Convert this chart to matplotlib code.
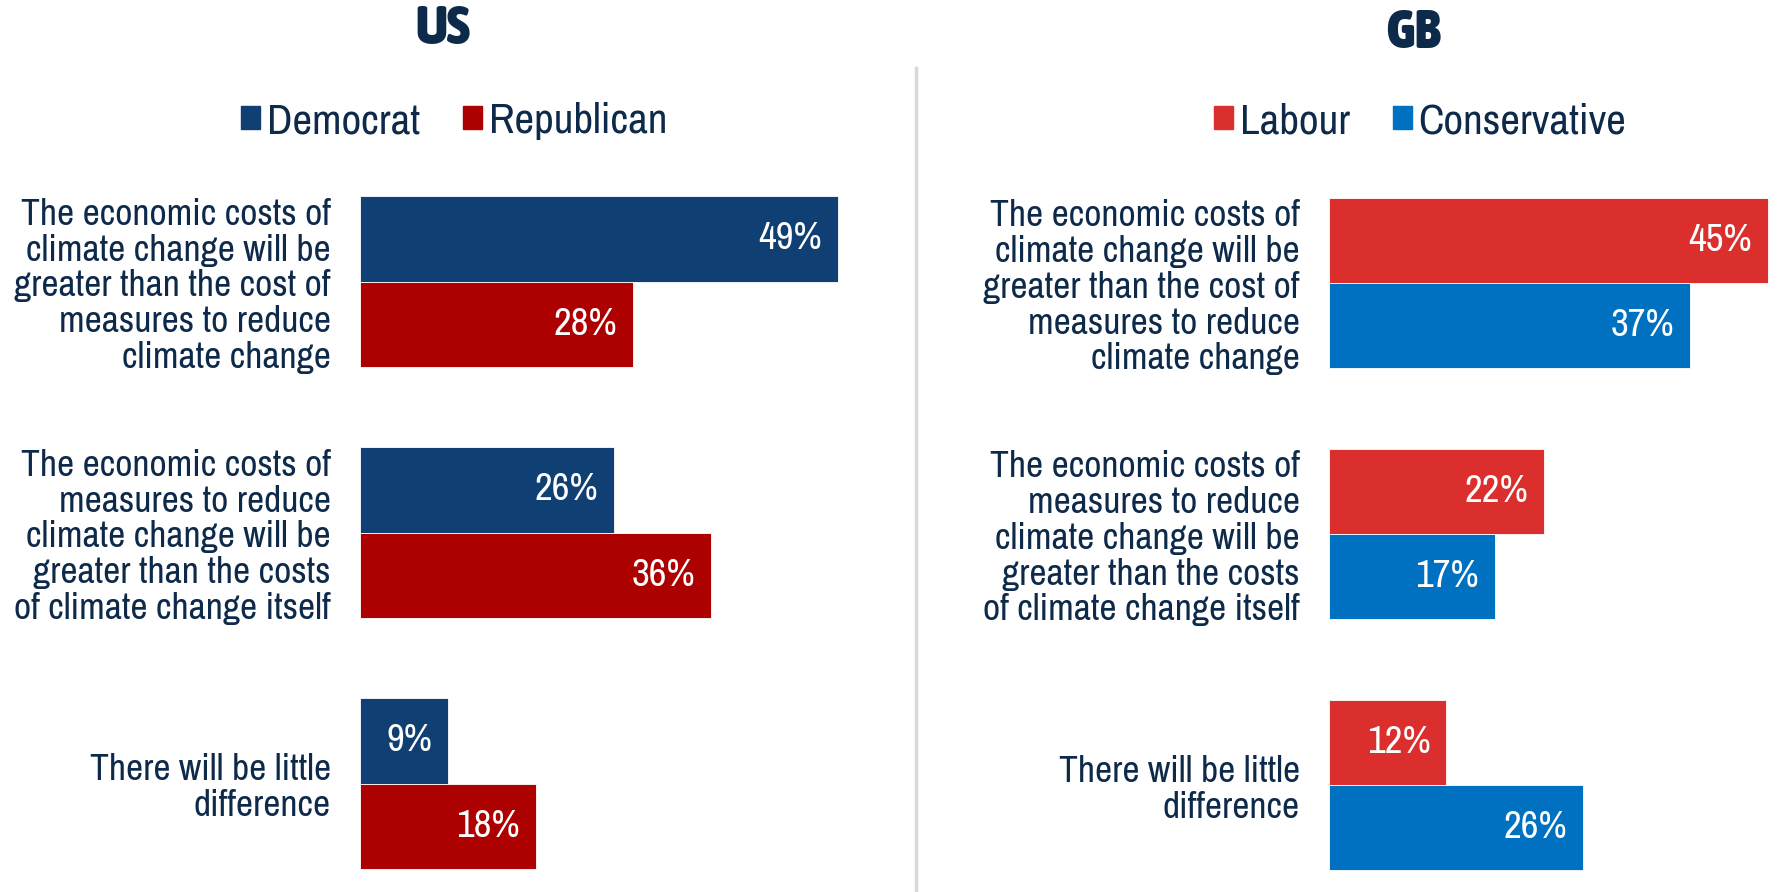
"""Party split on the economic costs of climate change, US vs GB."""

import matplotlib
matplotlib.use('Agg')
import matplotlib.pyplot as plt
from matplotlib import font_manager
from matplotlib.font_manager import weight_dict
from matplotlib.patches import Patch

# --- data -------------------------------------------------------------------
categories = [
    "The economic costs of\nclimate change will be\ngreater than the cost of\nmeasures to reduce\nclimate change",
    "The economic costs of\nmeasures to reduce\nclimate change will be\ngreater than the costs\nof climate change itself",
    "There will be little\ndifference",
]

us_parties = ["Democrat", "Republican"]
us_democrat = [49, 26, 9]
us_republican = [28, 36, 18]

gb_parties = ["Labour", "Conservative"]
gb_labour = [45, 22, 12]
gb_conservative = [37, 17, 26]

# --- style ------------------------------------------------------------------
NAVY_TEXT = '#0e2a4a'
US_COLORS = ['#0f3f73', '#ad0000']
GB_COLORS = ['#da2f2c', '#0070c0']


def _wnum(w):
    return w if isinstance(w, int) else weight_dict.get(w, 400)


# the original uses a narrow face; take a condensed one if there is any
_cond = [f for f in font_manager.fontManager.ttflist
         if 'condensed' in str(f.stretch).lower() or 'Narrow' in f.name
         or 'Condensed' in f.name]
_cond_names = sorted({f.name for f in _cond})
FONT = _cond_names[0] if _cond_names else 'DejaVu Sans'
plt.rcParams['font.family'] = [FONT, 'DejaVu Sans']
plt.rcParams['font.stretch'] = 'condensed'

# heavy condensed file for the two panel titles
_heavy = sorted([f for f in _cond if _wnum(f.weight) >= 700],
                key=lambda f: -_wnum(f.weight))
TITLE_FONT = (font_manager.FontProperties(fname=_heavy[0].fname) if _heavy
              else font_manager.FontProperties(family=FONT, weight='bold',
                                               stretch='condensed'))

W, H = 1780, 892
PX_PER_PCT = 9.75
GROUP_STEP = 251      # px between category centres
BAR_H = 0.34          # in category units
AX_TOP, AX_BOTTOM = 150, 892

fig = plt.figure(figsize=(W / 100, H / 100), dpi=100)


def px_axes(left, top, width, height):
    return fig.add_axes([left / W, 1 - (top + height) / H, width / W, height / H])


def panel(left, right, first_centre, series, colors):
    ax = px_axes(left, AX_TOP, right - left, AX_BOTTOM - AX_TOP)
    top = -(first_centre - AX_TOP) / GROUP_STEP
    bottom = top + (AX_BOTTOM - AX_TOP) / GROUP_STEP
    ax.set_ylim(bottom, top)
    ax.set_xlim(0, (right - left) / PX_PER_PCT)

    ys = list(range(len(categories)))
    for k, (vals, col) in enumerate(zip(series, colors)):
        pos = [y + (k - 0.5) * BAR_H for y in ys]
        ax.barh(pos, vals, height=BAR_H, color=col, edgecolor='white', linewidth=0.6)
        for p, v in zip(pos, vals):
            ax.text(v - 1.6, p, f'{v}%', ha='right', va='center',
                    color='white', fontsize=28)

    ax.set_yticks(ys)
    ax.set_yticklabels(categories, fontsize=27, color=NAVY_TEXT, linespacing=1.1)
    ax.tick_params(axis='y', length=0, pad=21)
    ax.set_xticks([])
    for s in ax.spines.values():
        s.set_visible(False)
    return ax


panel(360, 900, 281.5, [us_democrat, us_republican], US_COLORS)
panel(1329, 1780, 283, [gb_labour, gb_conservative], GB_COLORS)

# titles
fig.text(443 / W, 1 - 29 / H, 'US', ha='center', va='center',
         fontproperties=TITLE_FONT, fontsize=39, color=NAVY_TEXT)
fig.text(1413 / W, 1 - 33 / H, 'GB', ha='center', va='center',
         fontproperties=TITLE_FONT, fontsize=39, color=NAVY_TEXT)

# legends
for parties, colors, cx in [(us_parties, US_COLORS, 454), (gb_parties, GB_COLORS, 1420)]:
    handles = [Patch(color=c, label=p) for p, c in zip(parties, colors)]
    fig.legend(handles=handles, loc='center', bbox_to_anchor=(cx / W, 1 - 121 / H),
               ncol=2, frameon=False, fontsize=31, labelcolor=NAVY_TEXT,
               handlelength=0.45, handleheight=0.45, handletextpad=0.15,
               columnspacing=1.0)

# divider between the two panels
fig.add_artist(plt.Line2D([916 / W, 916 / W], [1 - 68 / H, 0], color='#d9d9d9',
                          linewidth=2.5))

fig.savefig('out.png', dpi=100)
